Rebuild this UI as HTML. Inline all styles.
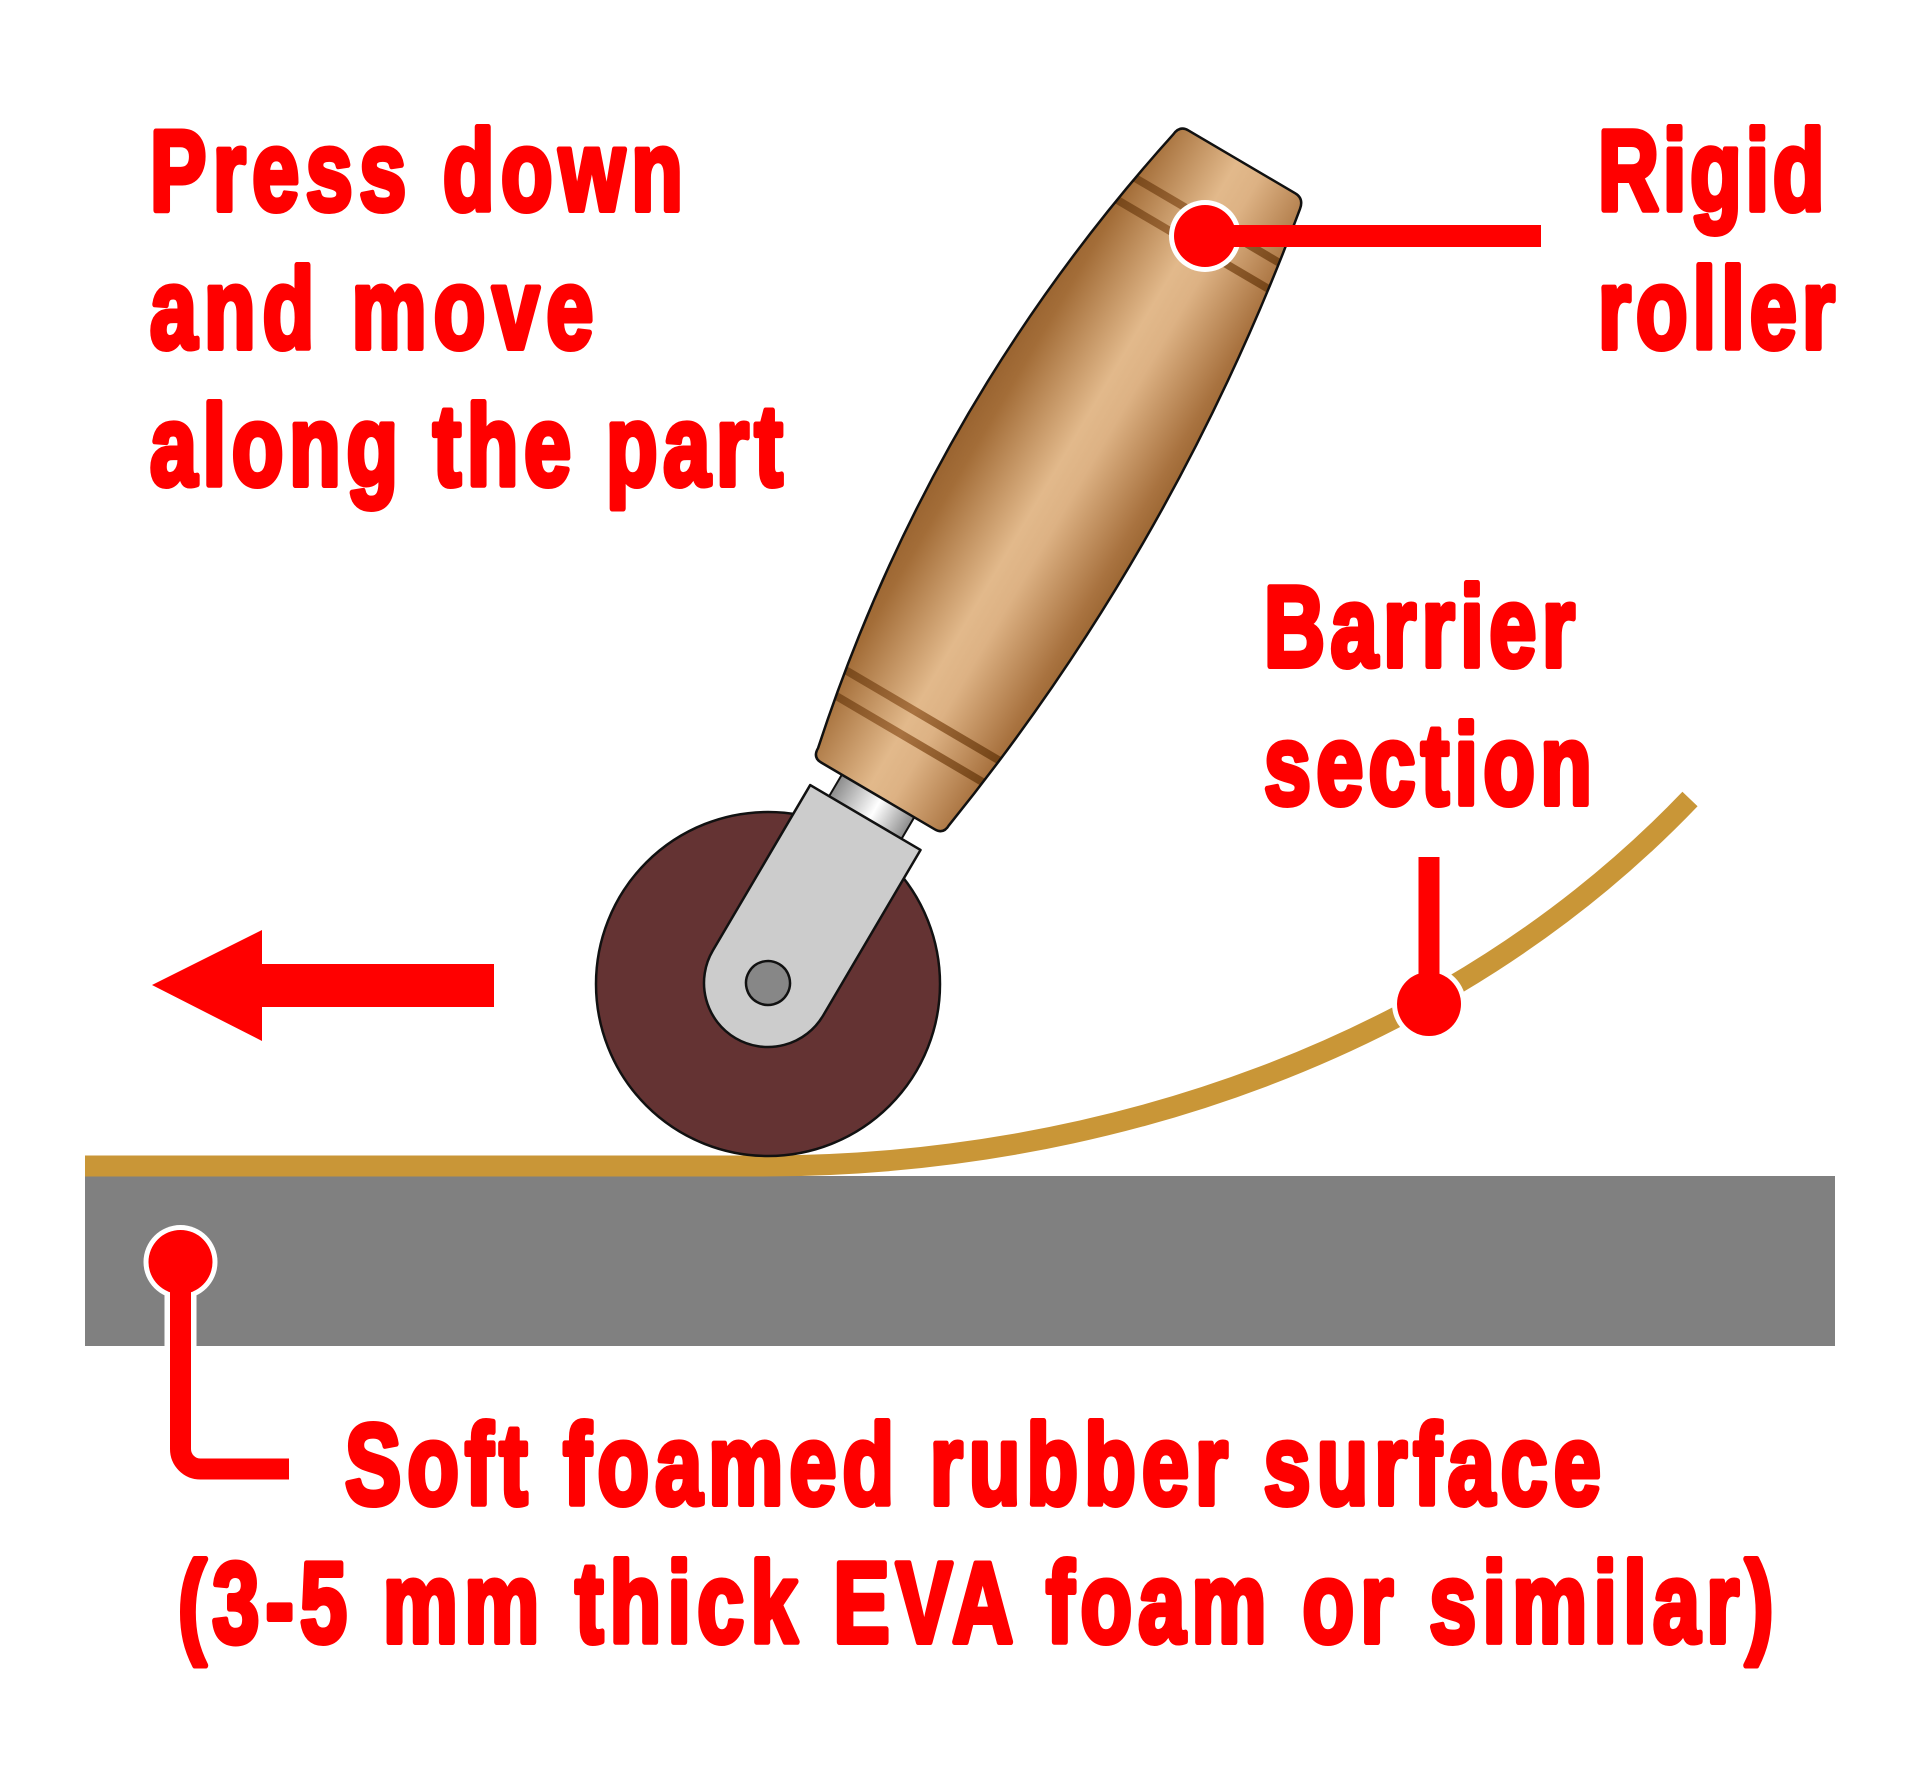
<!DOCTYPE html>
<html>
<head>
<meta charset="utf-8">
<style>
  html,body{margin:0;padding:0;background:#ffffff;}
  svg{display:block;}
  .t{font-family:"Liberation Sans",Arial,sans-serif;font-weight:bold;font-size:114px;fill:#ff0000;stroke:#ff0000;stroke-width:6;stroke-linejoin:round;}
</style>
</head>
<body>
<svg width="1920" height="1792" viewBox="0 0 1920 1792" xmlns="http://www.w3.org/2000/svg">
  <defs>
    <linearGradient id="wood" gradientUnits="userSpaceOnUse" x1="-120" y1="0" x2="105" y2="0">
      <stop offset="0" stop-color="#98622f"/>
      <stop offset="0.12" stop-color="#a36d38"/>
      <stop offset="0.48" stop-color="#e2b98b"/>
      <stop offset="0.6" stop-color="#ddb284"/>
      <stop offset="0.9" stop-color="#a97340"/>
      <stop offset="1" stop-color="#9a6531"/>
    </linearGradient>
    <linearGradient id="stripe" gradientUnits="userSpaceOnUse" x1="-120" y1="0" x2="105" y2="0">
      <stop offset="0" stop-color="#683a0e"/>
      <stop offset="0.48" stop-color="#a87240"/>
      <stop offset="1" stop-color="#683a0e"/>
    </linearGradient>
    <linearGradient id="silver" gradientUnits="userSpaceOnUse" x1="-42" y1="0" x2="42" y2="0">
      <stop offset="0" stop-color="#8c8c8c"/>
      <stop offset="0.55" stop-color="#ffffff"/>
      <stop offset="1" stop-color="#8c8c8c"/>
    </linearGradient>
    <clipPath id="hc">
      <path d="M -66 -217 L 66 -217 Q 76 -217 76 -228 Q 129 -582 66 -937 Q 64 -948 54 -948 L -70 -948 Q -80 -948 -81 -937 Q -153.5 -582 -76 -228 Q -76 -217 -66 -217 Z"/>
    </clipPath>
  </defs>

  <!-- foam surface -->
  <rect x="85" y="1176" width="1750" height="170" fill="#808080"/>

  <!-- barrier section -->
  <path d="M 85 1166 L 763 1166 C 1100 1166 1450 1050 1690 799" fill="none" stroke="#c99637" stroke-width="21"/>

  <!-- wheel -->
  <circle cx="768" cy="984" r="172" fill="#643333" stroke="#111" stroke-width="2.5"/>

  <g transform="translate(768 983) rotate(30.47)">
    <!-- ferrule -->
    <rect x="-42" y="-220" width="84" height="32" fill="url(#silver)" stroke="#111" stroke-width="2"/>
    <!-- bracket -->
    <path d="M -64 0 L -64 -192 L 64 -192 L 64 0 A 64 64 0 0 1 -64 0 Z" fill="#cccccc" stroke="#111" stroke-width="2.5" stroke-linejoin="round"/>
    <!-- axle -->
    <circle cx="0" cy="0" r="22" fill="#878787" stroke="#111" stroke-width="2.5"/>
    <!-- handle -->
    <path d="M -66 -217 L 66 -217 Q 76 -217 76 -228 Q 129 -582 66 -937 Q 64 -948 54 -948 L -70 -948 Q -80 -948 -81 -937 Q -153.5 -582 -76 -228 Q -76 -217 -66 -217 Z" fill="url(#wood)"/>
    <g clip-path="url(#hc)">
      <rect x="-170" y="-286" width="320" height="8" fill="url(#stripe)"/>
      <rect x="-170" y="-313" width="320" height="8" fill="url(#stripe)"/>
      <rect x="-170" y="-856" width="320" height="8" fill="url(#stripe)"/>
      <rect x="-170" y="-884" width="320" height="8" fill="url(#stripe)"/>
    </g>
    <path d="M -66 -217 L 66 -217 Q 76 -217 76 -228 Q 129 -582 66 -937 Q 64 -948 54 -948 L -70 -948 Q -80 -948 -81 -937 Q -153.5 -582 -76 -228 Q -76 -217 -66 -217 Z" fill="none" stroke="#111" stroke-width="2.5" stroke-linejoin="round"/>
  </g>

  <!-- arrow -->
  <polygon points="152,985 262,930 262,964 494,964 494,1007 262,1007 262,1041" fill="#ff0000"/>

  <!-- leader: rigid roller -->
  <circle cx="1205" cy="236" r="36" fill="#ffffff"/>
  <line x1="1205" y1="236" x2="1541" y2="236" stroke="#ff0000" stroke-width="22"/>
  <circle cx="1205" cy="236" r="31" fill="#ff0000"/>

  <!-- leader: barrier section -->
  <circle cx="1429" cy="1004" r="37" fill="#ffffff"/>
  <line x1="1429" y1="857" x2="1429" y2="1004" stroke="#ff0000" stroke-width="21"/>
  <circle cx="1429" cy="1004" r="32" fill="#ff0000"/>

  <!-- leader: soft foam -->
  <path d="M 180.5 1262 L 180.5 1449 A 20 20 0 0 0 200.5 1469 L 289 1469" fill="none" stroke="#ffffff" stroke-width="32"/>
  <circle cx="180.5" cy="1262" r="37" fill="#ffffff"/>
  <path d="M 180.5 1262 L 180.5 1449 A 20 20 0 0 0 200.5 1469 L 289 1469" fill="none" stroke="#ff0000" stroke-width="21"/>
  <circle cx="180.5" cy="1262" r="32" fill="#ff0000"/>

  <!-- text -->
  <text class="t" transform="translate(150 210) scale(0.74 1)" textLength="720" lengthAdjust="spacing">Press down</text>
  <text class="t" transform="translate(150 348) scale(0.74 1)" textLength="599" lengthAdjust="spacing">and move</text>
  <text class="t" transform="translate(150 485) scale(0.74 1)" textLength="855" lengthAdjust="spacing">along the part</text>

  <text class="t" transform="translate(1598 210) scale(0.74 1)" textLength="306" lengthAdjust="spacing">Rigid</text>
  <text class="t" transform="translate(1598 348) scale(0.74 1)" textLength="320" lengthAdjust="spacing">roller</text>

  <text class="t" transform="translate(1264 666) scale(0.74 1)" textLength="420" lengthAdjust="spacing">Barrier</text>
  <text class="t" transform="translate(1264 804) scale(0.74 1)" textLength="443" lengthAdjust="spacing">section</text>

  <text class="t" transform="translate(345 1504) scale(0.74 1)" textLength="1697" lengthAdjust="spacing">Soft foamed rubber surface</text>
  <text class="t" transform="translate(178 1642) scale(0.74 1)" textLength="2156" lengthAdjust="spacing">(3-5 mm thick EVA foam or similar)</text>
</svg>
</body>
</html>
